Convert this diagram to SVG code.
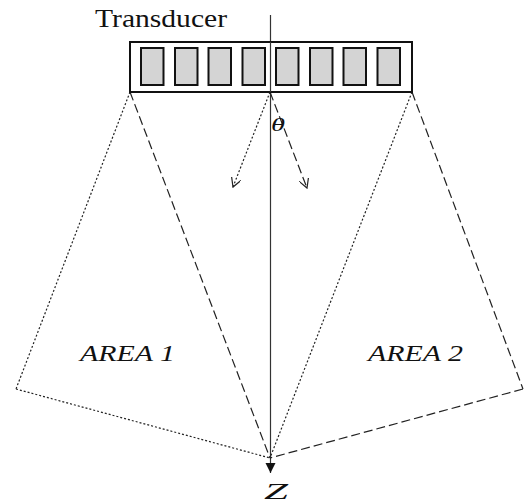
<svg xmlns="http://www.w3.org/2000/svg" width="526" height="504" viewBox="0 0 526 504">
<style>
.dash{fill:none;stroke:#222;stroke-width:1.2;stroke-dasharray:9,4}
.dot{fill:none;stroke:#222;stroke-width:1.2;stroke-dasharray:2,2}
.el{fill:#d4d4d4;stroke:#111;stroke-width:2}
.lbl{font-family:"Liberation Serif",serif;fill:#111}
.it{font-style:italic}
</style>
<defs>
<marker id="open" viewBox="0 0 10 10" refX="9" refY="5" markerWidth="10" markerHeight="10" markerUnits="userSpaceOnUse" orient="auto">
<path d="M0,0 L9,5 L0,10" fill="none" stroke="#222" stroke-width="1.2"/>
</marker>
<marker id="fill" viewBox="0 0 10 10" refX="10" refY="5" markerWidth="10" markerHeight="12" markerUnits="userSpaceOnUse" orient="auto">
<path d="M0,0 L10,5 L0,10 Z" fill="#111"/>
</marker>
</defs>
<g id="connectors">
<line x1="270.5" y1="15" x2="270.5" y2="473" stroke="#333" stroke-width="1.2" marker-end="url(#fill)"/>
<line class="dash" x1="130" y1="92" x2="270" y2="458"/>
<line class="dot" x1="130" y1="92" x2="16" y2="389"/>
<line class="dot" x1="16" y1="389" x2="270" y2="458"/>
<line class="dash" x1="412" y1="92" x2="523" y2="389"/>
<line class="dash" x1="523" y1="389" x2="270" y2="458"/>
<line class="dot" x1="412" y1="92" x2="270" y2="458"/>
<line class="dot" x1="270" y1="92" x2="233" y2="187" marker-end="url(#open)"/>
<line class="dash" x1="270" y1="92" x2="307" y2="188" marker-end="url(#open)"/>
</g>
<g id="transducer">
<rect x="130" y="42" width="282" height="50" fill="#fff" stroke="#111" stroke-width="2"/>
<rect class="el" x="141" y="48" width="22.5" height="37"/>
<rect class="el" x="175" y="48" width="22.5" height="37"/>
<rect class="el" x="208.5" y="48" width="22.5" height="37"/>
<rect class="el" x="242.5" y="48" width="22.5" height="37"/>
<rect class="el" x="276" y="48" width="22.5" height="37"/>
<rect class="el" x="310" y="48" width="22.5" height="37"/>
<rect class="el" x="343.5" y="48" width="22.5" height="37"/>
<rect class="el" x="377.5" y="48" width="22.5" height="37"/>
<line x1="270.5" y1="42" x2="270.5" y2="92" stroke="#333" stroke-width="1.2"/>
<text class="lbl" x="95" y="27" font-size="25" textLength="132" lengthAdjust="spacingAndGlyphs">Transducer</text>
</g>
<g id="theta"><text class="lbl it" x="271" y="131" font-size="18" textLength="14" lengthAdjust="spacingAndGlyphs">θ</text></g>
<g id="area1"><text class="lbl it" x="80" y="361" font-size="24" textLength="95" lengthAdjust="spacingAndGlyphs">AREA 1</text></g>
<g id="area2"><text class="lbl it" x="368" y="361" font-size="24" textLength="95" lengthAdjust="spacingAndGlyphs">AREA 2</text></g>
<g id="z"><text class="lbl it" x="264" y="499" font-size="24" textLength="24" lengthAdjust="spacingAndGlyphs">Z</text></g>
</svg>
